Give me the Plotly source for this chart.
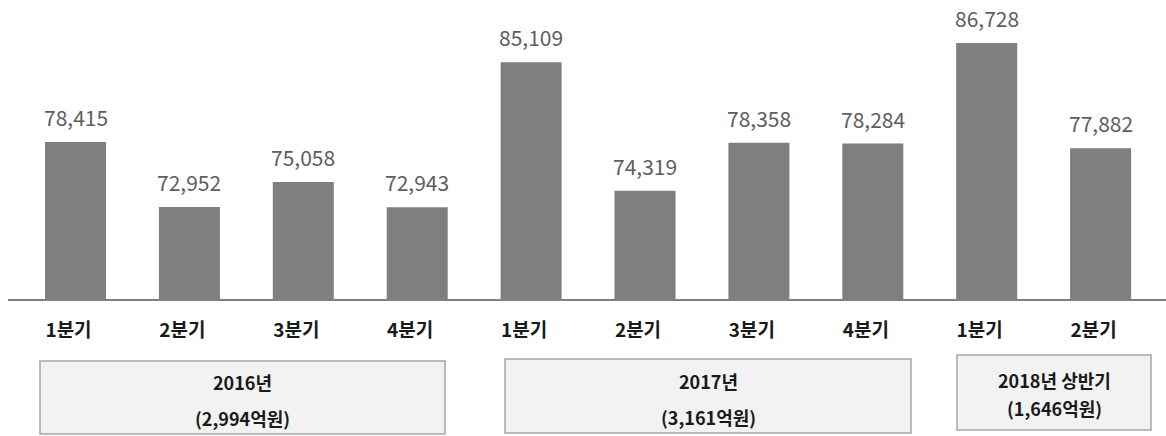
import plotly.graph_objects as go

# Quarterly amounts
quarters = ["1분기", "2분기", "3분기", "4분기",
            "1분기", "2분기", "3분기", "4분기",
            "1분기", "2분기"]
values = [78415, 72952, 75058, 72943,
          85109, 74319, 78358, 78284,
          86728, 77882]

# Yearly group captions
group_titles = ["2016년", "2017년", "2018년 상반기"]
group_totals = ["(2,994억원)", "(3,161억원)", "(1,646억원)"]

W, H = 1166, 436
PLOT_L, PLOT_R, PLOT_B = 8, 1166, 300  # pixel edges of the plotting area

x_idx = list(range(len(values)))

fig = go.Figure()
fig.add_trace(go.Bar(
    x=x_idx, y=values,
    marker=dict(color="#7f7f7f", line=dict(width=0)),
    hoverinfo="skip",
))

# value labels above each bar
for xi, v in zip(x_idx, values):
    fig.add_annotation(
        x=xi, y=v, xref="x", yref="y",
        text=f"{v:,}", showarrow=False,
        yanchor="middle", yshift=25,
        font=dict(family="Noto Sans CJK KR, Noto Sans, sans-serif", size=21, color="#5e5e5e"),
    )


def px_to_paper_x(px):
    return (px - PLOT_L) / (PLOT_R - PLOT_L)


def px_to_paper_y(py):
    return (PLOT_B - py) / PLOT_B


# grey caption boxes under the quarter labels (pixel extents)
box_px = [(40, 361, 445, 434), (505, 359, 911, 433), (957, 355, 1151, 430)]
title_y = [382, 381, 380]
total_y = [418, 417, 408]
for (x0, y0, x1, y1), t, s, ty, sy in zip(box_px, group_titles, group_totals, title_y, total_y):
    fig.add_shape(
        type="rect", xref="paper", yref="paper",
        x0=px_to_paper_x(x0), x1=px_to_paper_x(x1),
        y0=px_to_paper_y(y0), y1=px_to_paper_y(y1),
        fillcolor="#f2f2f2", line=dict(color="#a6a6a6", width=1.5),
        layer="below",
    )
    cx = px_to_paper_x((x0 + x1) / 2)
    for txt, yy in ((t, ty), (s, sy)):
        fig.add_annotation(
            x=cx, y=px_to_paper_y(yy), xref="paper", yref="paper",
            text=txt, showarrow=False, yanchor="middle", xanchor="center",
            font=dict(family="Noto Sans CJK KR, sans-serif", size=18, color="#1a1a1a", weight="bold"),
        )

# baseline
fig.add_shape(
    type="line", xref="paper", yref="paper",
    x0=0, x1=1, y0=0, y1=0,
    line=dict(color="#808080", width=2),
)

px_per_unit = 113.9
first_center = 75.5
x_lo = -(first_center - PLOT_L) / px_per_unit
x_hi = x_lo + (PLOT_R - PLOT_L) / px_per_unit

fig.update_layout(
    width=W, height=H,
    margin=dict(l=PLOT_L, r=W - PLOT_R, t=0, b=H - PLOT_B, pad=0),
    paper_bgcolor="white", plot_bgcolor="white",
    bargap=0.4644,
    showlegend=False,
    xaxis=dict(
        range=[x_lo, x_hi],
        tickmode="array", tickvals=x_idx, ticktext=quarters,
        showgrid=False, zeroline=False, showline=False, ticks="",
        ticklabelshift=-7, ticklabelstandoff=17,
        tickfont=dict(family="Noto Sans CJK KR, sans-serif", size=19, color="#1a1a1a", weight="bold"),
        fixedrange=True,
    ),
    yaxis=dict(
        range=[65148, 90339],
        showgrid=False, zeroline=False, showline=False, showticklabels=False, ticks="",
        fixedrange=True,
    ),
)

fig.write_html("out.html")
